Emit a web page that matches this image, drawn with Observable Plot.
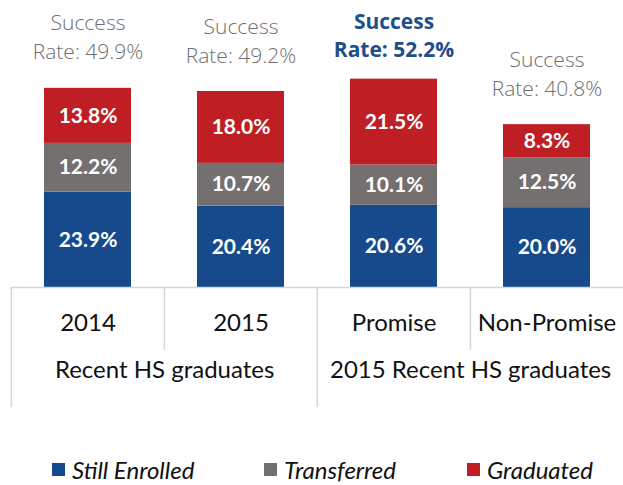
<!DOCTYPE html>
<html><head><meta charset="utf-8">
<script src="https://cdn.jsdelivr.net/npm/d3@7"></script>
<script src="https://cdn.jsdelivr.net/npm/@observablehq/plot@0.6"></script>
<style>
body{margin:0;background:#fff;}
#wrap{position:relative;width:623px;}
.legend{position:relative;height:45px;font-family:Lato,"Open Sans",sans-serif;font-style:italic;font-size:24px;color:#111;}
.legend .item{position:absolute;top:15px;display:flex;align-items:center;}
.legend .sw{width:13px;height:13px;margin-right:7px;}
</style></head>
<body><div id="wrap"></div>
<script>
const categories = ["2014", "2015", "Promise", "Non-Promise"];
const groups = ["Recent HS graduates", "2015 Recent HS graduates"];
const groupStart = ["2014", "Promise"];
const series = ["Still Enrolled", "Transferred", "Graduated"];
const colors = ["#174a8c", "#747070", "#be1e24"];
const stillEnrolled = [23.9, 20.4, 20.6, 20.0];
const transferred = [12.2, 10.7, 10.1, 12.5];
const graduated = [13.8, 18.0, 21.5, 8.3];
const successRate = [49.9, 49.2, 52.2, 40.8];
const highlight = "Promise";

const values = [stillEnrolled, transferred, graduated];
const data = [];
series.forEach((s, si) => categories.forEach((c, ci) => data.push({cat: c, series: s, value: values[si][ci]})));
const totals = categories.map((c, i) => ({cat: c, rate: successRate[i], total: d3.sum(values, v => v[i])}));

const W = 623, H = 440, mL = 10, mR = 0, mT = 0, mB = 153;
const yMax = 71.9;
const step = (W - mL - mR) / categories.length;
const pxPerUnit = (H - mT - mB) / yMax;
const below = px => -px / pxPerUnit;
const lineColor = "#d6d6d6";

const chart = Plot.plot({
  width: W, height: H, marginLeft: mL, marginRight: mR, marginTop: mT, marginBottom: mB,
  style: {fontFamily: "Lato, 'Open Sans', sans-serif", background: "white"},
  x: {domain: categories, padding: 0, label: null},
  y: {domain: [0, yMax], axis: null},
  color: {domain: series, range: colors},
  marks: [
    Plot.barY(data, {x: "cat", y: "value", fill: "series", insetLeft: 33, insetRight: 33}),
    Plot.text(data, Plot.stackY({x: "cat", y: "value", z: "series", text: d => d.value.toFixed(1) + "%",
      fill: "white", fontWeight: "bold", fontSize: 21})),
    Plot.text(totals.filter(d => d.cat !== highlight), {x: "cat", y: "total", text: d => "Success\nRate: " + d.rate.toFixed(1) + "%",
      lineAnchor: "bottom", dy: -29, lineHeight: 1.38, fontSize: 21, fill: "#6e6e6e", fontFamily: "'Open Sans', sans-serif", fontWeight: 300}),
    Plot.text(totals.filter(d => d.cat === highlight), {x: "cat", y: "total", text: d => "Success\nRate: " + d.rate.toFixed(1) + "%",
      lineAnchor: "bottom", dy: -22.5, lineHeight: 1.33, fontSize: 21, fill: "#1f4e8c", fontWeight: "bold", fontFamily: "'Open Sans', sans-serif"}),
    Plot.ruleY([0], {stroke: lineColor, strokeWidth: 1.5}),
    Plot.ruleX(categories, {x: d => d, dx: -step / 2, y1: 0,
      y2: d => groupStart.includes(d) ? below(120) : below(63), stroke: lineColor, strokeWidth: 1.5}),
    Plot.axisX({tickSize: 0, tickPadding: 26, fontSize: 24, fill: "#111", label: null}),
    Plot.text(groups, {x: (d, i) => groupStart[i], dx: step / 2, y: 0, dy: 83, text: d => d, fontSize: 24, fill: "#111"})
  ]
});
const wrap = document.getElementById("wrap");
wrap.appendChild(chart);

const legend = document.createElement("div");
legend.className = "legend";
const lefts = [52, 264, 467];
series.forEach((s, i) => {
  const it = document.createElement("div");
  it.className = "item";
  it.style.left = lefts[i] + "px";
  it.innerHTML = `<span class="sw" style="background:${colors[i]}"></span><span>${s}</span>`;
  legend.appendChild(it);
});
wrap.appendChild(legend);
</script></body></html>
